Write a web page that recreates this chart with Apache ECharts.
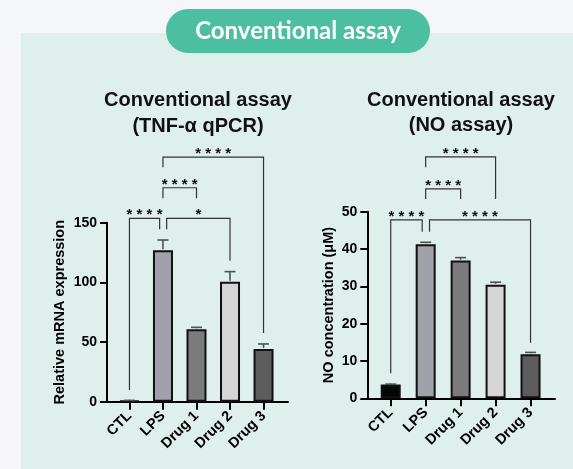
<!DOCTYPE html>
<html>
<head>
<meta charset="utf-8">
<script src="https://cdn.jsdelivr.net/npm/echarts@6/dist/echarts.min.js"></script>
<style>
html,body{margin:0;padding:0;background:#f5f6fa;}
#chart{width:573px;height:469px;}
</style>
</head>
<body>
<div id="chart"></div>
<script>
// ---- data ----
const categories = ['CTL', 'LPS', 'Drug 1', 'Drug 2', 'Drug 3'];
const tnfMean = [0.8, 127, 60.7, 100.6, 44.2];
const tnfSd = [0.3, 8.5, 1.6, 8.4, 4.2];
const noMean = [3.7, 41.3, 36.9, 30.4, 11.8];
const noSd = [0.1, 0.5, 0.8, 0.7, 0.5];
const tnfTicks = [0, 50, 100, 150];
const noTicks = [0, 10, 20, 30, 40, 50];
// brackets: [from, to, barHeight, leftLegEnd, rightLegEnd, label]
const tnfBrackets = [
  [0, 1, 153.7, 9.8, 144.5, '* * * *'],
  [1, 3, 153.7, 144.5, 118.2, '*'],
  [1, 2, 179.3, 170.4, 170.4, '* * * *'],
  [1, 4, 205, 196.4, 57.6, '* * * *']
];
const noBrackets = [
  [0, 1, 47.8, 6.7, 44.6, '* * * *'],
  [1, 4, 47.8, 44.6, 14.9, '* * * *'],
  [1, 2, 56.1, 53.4, 53.4, '* * * *'],
  [1, 3, 64.7, 61.9, 53.4, '* * * *']
];
const titleMain = 'Conventional assay';
const leftTitle = 'Conventional assay\n(TNF-α qPCR)';
const rightTitle = 'Conventional assay\n(NO assay)';
const leftYName = 'Relative mRNA expression';
const rightYName = 'NO concentration (μM)';

// ---- styles ----
const palette = ['#050505', '#a1a1a9', '#7b7b7b', '#d5d5d5', '#5d5d5d'];
const FONT = 'Liberation Sans, Arial, sans-serif';

const chart = echarts.init(document.getElementById('chart'), null, {renderer: 'canvas'});

function xAxisCfg(gridIndex, max) {
  return {
    type: 'value', gridIndex: gridIndex, min: -0.67, max: max,
    splitLine: {show: false},
    axisLine: {show: true, onZero: false, lineStyle: {color: '#000', width: 2}},
    axisTick: {show: true, inside: false, length: 8, customValues: [0, 1, 2, 3, 4], lineStyle: {color: '#000', width: 2}},
    axisLabel: {
      customValues: [0, 1, 2, 3, 4], rotate: 45, margin: 12,
      formatter: v => categories[Math.round(v)],
      color: '#000', fontWeight: 'bold', fontSize: 14.5, fontFamily: FONT
    }
  };
}
function yAxisCfg(gridIndex, ticks, name, gap) {
  return {
    type: 'value', gridIndex: gridIndex, min: ticks[0], max: ticks[ticks.length - 1],
    interval: ticks[1] - ticks[0],
    name: name, nameLocation: 'middle', nameGap: gap,
    nameTextStyle: {color: '#000', fontWeight: 'bold', fontSize: 14.5, fontFamily: FONT},
    splitLine: {show: false},
    axisLine: {show: true, onZero: false, lineStyle: {color: '#000', width: 2}},
    axisTick: {show: true, inside: false, length: 7, lineStyle: {color: '#000', width: 2}},
    axisLabel: {color: '#000', fontWeight: 'bold', fontSize: 14, fontFamily: FONT, margin: 10}
  };
}
function barSeries(idx, mean) {
  return {
    type: 'bar', xAxisIndex: idx, yAxisIndex: idx, barWidth: 20, z: 2,
    data: mean.map((v, i) => ({value: [i, v], itemStyle: {color: palette[i]}})),
    itemStyle: {borderColor: '#111', borderWidth: 2}
  };
}
function errSeries(idx, mean, sd) {
  return {
    type: 'custom', xAxisIndex: idx, yAxisIndex: idx, z: 3,
    data: mean.map((v, i) => [i, v, v + sd[i]]),
    renderItem: function (params, api) {
      const p0 = api.coord([api.value(0), api.value(1)]);
      const p1 = api.coord([api.value(0), api.value(2)]);
      const st = {stroke: '#4a5252', lineWidth: 1.6};
      return {type: 'group', children: [
        {type: 'line', shape: {x1: p0[0], y1: p0[1] - 1, x2: p1[0], y2: p1[1]}, style: st},
        {type: 'line', shape: {x1: p1[0] - 5.5, y1: p1[1], x2: p1[0] + 5.5, y2: p1[1]}, style: st}
      ]};
    }
  };
}
function bracketSeries(idx, brackets) {
  return {
    type: 'custom', xAxisIndex: idx, yAxisIndex: idx, z: 4, clip: false,
    data: brackets.map(b => {
      // legs meeting at LPS from both sides are nudged apart slightly
      const a = b[0], c = b[1];
      const shared = brackets.some(o => o !== b && o[2] === b[2]);
      const xa = a + (shared && a === 1 ? 0.11 : 0);
      const xc = c - (shared && c === 1 ? 0.1 : 0);
      return [xa, xc, b[2], b[3], b[4], b[5]];
    }),
    renderItem: function (params, api) {
      const x1 = api.value(0), x2 = api.value(1), h = api.value(2);
      const pL = api.coord([x1, api.value(3)]);
      const pH1 = api.coord([x1, h]);
      const pH2 = api.coord([x2, h]);
      const pR = api.coord([x2, api.value(4)]);
      const lbl = brackets[params.dataIndex][5];
      return {type: 'group', children: [
        {type: 'polyline', shape: {points: [pL, pH1, pH2, pR]},
         style: {stroke: '#333', lineWidth: 1.2, fill: null}},
        {type: 'text', style: {text: lbl, x: (pH1[0] + pH2[0]) / 2, y: pH1[1] - 3,
          align: 'center', verticalAlign: 'middle', font: 'bold 15px ' + FONT, fill: '#111'}}
      ]};
    }
  };
}

chart.setOption({
  animation: false,
  backgroundColor: '#f5f6fa',
  graphic: [
    {type: 'rect', shape: {x: 21, y: 33, width: 552, height: 436}, style: {fill: '#dfefec'}, z: -10},
    {type: 'rect', shape: {x: 166, y: 9, width: 264, height: 44, r: 22}, style: {fill: '#4bbf9f'}, z: -5},
    {type: 'text', style: {text: titleMain, x: 298, y: 31.5, align: 'center', verticalAlign: 'middle',
      font: 'bold 24px Lato, sans-serif', fill: '#ffffff'}},
    {type: 'text', style: {text: leftTitle, x: 198, y: 113.7, align: 'center', verticalAlign: 'middle',
      font: 'bold 20px ' + FONT, lineHeight: 26, fill: '#111'}},
    {type: 'text', style: {text: rightTitle, x: 461, y: 113, align: 'center', verticalAlign: 'middle',
      font: 'bold 20px ' + FONT, lineHeight: 25, fill: '#111'}}
  ],
  grid: [
    {left: 107, right: 285, top: 222.7, bottom: 67.3},
    {left: 367.3, right: 18, top: 211.7, bottom: 70.7}
  ],
  xAxis: [xAxisCfg(0, 4.73), xAxisCfg(1, 4.70)],
  yAxis: [yAxisCfg(0, tnfTicks, leftYName, 40), yAxisCfg(1, noTicks, rightYName, 31)],
  series: [
    barSeries(0, tnfMean), errSeries(0, tnfMean, tnfSd), bracketSeries(0, tnfBrackets),
    barSeries(1, noMean), errSeries(1, noMean, noSd), bracketSeries(1, noBrackets)
  ]
});
</script>
</body>
</html>
